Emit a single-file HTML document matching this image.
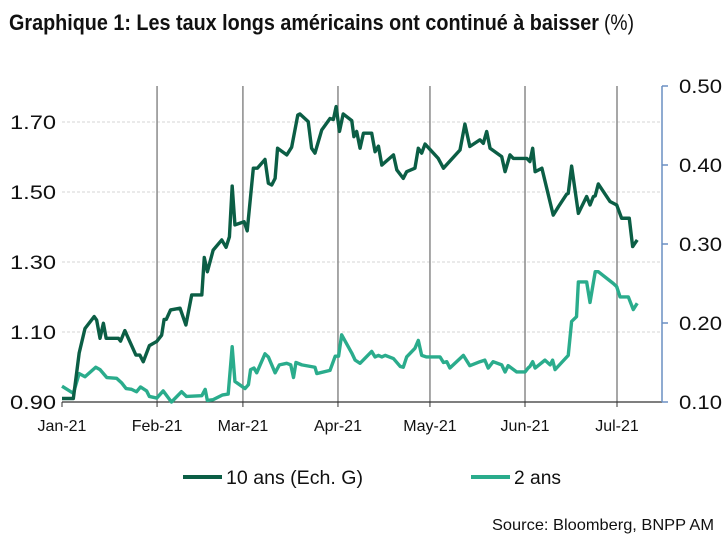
<!DOCTYPE html>
<html><head><meta charset="utf-8"><style>
html,body{margin:0;padding:0;background:#fff;}
svg{display:block;font-family:"Liberation Sans Narrow","Liberation Sans",sans-serif;}
</style></head><body>
<svg id="chart" width="725" height="536" viewBox="0 0 725 536" xmlns="http://www.w3.org/2000/svg">
<rect x="0" y="0" width="725" height="536" fill="#fff"/>
<text x="9" y="30" font-size="22" fill="#111"><tspan font-weight="bold" textLength="590" lengthAdjust="spacingAndGlyphs">Graphique 1: Les taux longs américains ont continué à baisser</tspan><tspan dx="5" textLength="30" lengthAdjust="spacingAndGlyphs">(%)</tspan></text>
<g id="grid"></g><g id="axes"></g><g id="series"></g>
<g>
<line x1="183" y1="477" x2="222" y2="477" stroke="#0b5e45" stroke-width="4"/>
<text x="226" y="484" font-size="19" textLength="137" lengthAdjust="spacingAndGlyphs" fill="#111">10 ans (Ech. G)</text>
<line x1="471" y1="477" x2="510" y2="477" stroke="#2aac8c" stroke-width="4"/>
<text x="514" y="484" font-size="19" textLength="47" lengthAdjust="spacingAndGlyphs" fill="#111">2 ans</text>
</g>
<text x="714" y="530" font-size="16" text-anchor="end" textLength="222" lengthAdjust="spacingAndGlyphs" fill="#111">Source: Bloomberg, BNPP AM</text>
</svg>
<script>
const monthLabels = ["Jan-21","Feb-21","Mar-21","Apr-21","May-21","Jun-21","Jul-21"];
const monthDays = [0,31,59,90,120,151,181];
const leftTicks = [0.90,1.10,1.30,1.50,1.70];
const rightTicks = [0.10,0.20,0.30,0.40,0.50];
const days10 = [0,3.7,5.6,7.5,10.5,11.3,12.4,13.5,14.4,18.4,19.1,20.5,24.1,25.4,26.5,28.5,30.9,32.5,33.3,34,35.4,38.5,40.4,42.3,45.6,46.4,47.4,49.3,52.1,53.5,54.6,55.5,56.4,59.4,60.4,62.4,63.7,66.2,67.3,68.4,69.5,70.3,73.3,74.9,76.9,77.6,80.3,81.4,82.5,84.7,87.4,88.5,89.4,90.5,91.7,94.5,95.2,96.1,97.2,98.3,101,102.1,103.2,104.3,108.1,109.2,111.3,112.4,115.1,116.2,117.3,118.4,122.7,124.4,129.8,131.4,133,136.3,137.4,138.5,139.6,143.4,144.5,146.1,147.2,151.6,152.6,153.5,154.3,156.5,160.2,161.9,164.6,165.1,166.2,168.4,171.1,172.2,173.3,173.9,174.9,178.7,180.9,182.5,185,186.1,187.6];
const values10 = [0.91,0.91,1.04,1.11,1.144,1.134,1.082,1.125,1.082,1.082,1.074,1.104,1.034,1.034,1.015,1.061,1.073,1.091,1.136,1.136,1.163,1.168,1.12,1.206,1.206,1.313,1.272,1.334,1.363,1.342,1.372,1.517,1.406,1.415,1.389,1.568,1.568,1.593,1.525,1.52,1.539,1.625,1.606,1.628,1.72,1.723,1.701,1.625,1.611,1.677,1.71,1.707,1.744,1.673,1.723,1.704,1.658,1.673,1.625,1.668,1.668,1.615,1.631,1.577,1.606,1.563,1.539,1.558,1.568,1.625,1.611,1.637,1.596,1.568,1.62,1.694,1.63,1.649,1.639,1.673,1.625,1.601,1.558,1.606,1.596,1.596,1.587,1.625,1.558,1.568,1.434,1.458,1.494,1.496,1.574,1.439,1.487,1.463,1.487,1.489,1.523,1.473,1.463,1.425,1.425,1.344,1.363];
const days2 = [0,3.7,5.6,7.5,11,12.4,14.6,17.8,19.5,20.9,22.7,24.3,25.6,27.6,28.5,30.9,33,35.7,39,40.6,45.6,46.7,47.4,49.3,52.4,54.2,55.5,56.4,59.7,60.8,61.5,62.6,63.5,66.2,67.3,69.5,70.9,73.3,74.6,75.5,76.3,78.2,82.5,83.1,87.4,89.1,90.2,91.2,94.5,95.6,97.2,101,102.1,103.2,104.3,105.4,108.1,110.3,111.3,112.4,115.1,116.2,117.3,118.9,123.3,124.4,125.5,126.5,130.9,133,136.3,137.9,139,140.6,143.4,144.5,145.5,148.3,151,152,152.6,153.5,154.3,157.5,159.2,160,160.8,165.1,166.2,167.8,168.4,171.1,172.2,173.9,174.9,179.8,180.9,182,184.7,186.3,187.6];
const values2 = [0.120,0.111,0.136,0.132,0.144,0.141,0.131,0.130,0.124,0.117,0.116,0.113,0.119,0.114,0.107,0.105,0.114,0.100,0.113,0.107,0.108,0.116,0.102,0.103,0.109,0.110,0.170,0.126,0.117,0.122,0.141,0.143,0.137,0.161,0.157,0.137,0.147,0.149,0.147,0.131,0.150,0.147,0.144,0.136,0.140,0.158,0.158,0.185,0.162,0.153,0.149,0.164,0.157,0.159,0.157,0.159,0.155,0.145,0.144,0.157,0.168,0.178,0.159,0.157,0.157,0.150,0.151,0.143,0.159,0.146,0.151,0.153,0.143,0.151,0.147,0.138,0.146,0.138,0.138,0.143,0.145,0.151,0.143,0.153,0.147,0.153,0.141,0.159,0.202,0.208,0.252,0.252,0.226,0.265,0.265,0.250,0.246,0.233,0.233,0.217,0.225];

const NS = "http://www.w3.org/2000/svg";
const X0 = 62, X1 = 662, YB = 402, YT = 86;
const xs = d => X0 + d * (617 - X0) / 181;
const yl = v => YB - (v - 0.9) * 350;
const yr = v => YB - (v - 0.1) * 790;
function mk(tag, attrs, parent){const e=document.createElementNS(NS,tag);for(const k in attrs)e.setAttribute(k,attrs[k]);parent.appendChild(e);return e;}
const grid = document.getElementById('grid'), axes = document.getElementById('axes'), series = document.getElementById('series');

leftTicks.forEach(v => {
  if (v > 0.9) {
    const g = mk('line',{x1:X0,x2:X1,y1:yl(v),y2:yl(v),stroke:'#d4d4d4','stroke-width':1,'stroke-dasharray':'3,2'},grid);
    
    
  }
  const t = mk('text',{x:56,y:yl(v)+7,'font-size':19,'text-anchor':'end',fill:'#111',textLength:46,lengthAdjust:'spacingAndGlyphs'},axes);
  t.textContent = v.toFixed(2);
  
  
});
monthDays.forEach((d,i) => {
  if (i > 0) {
    const g = mk('line',{x1:xs(d),x2:xs(d),y1:YT,y2:YB,stroke:'#8a8a8a','stroke-width':1.5},grid);
    
    
  }
  const tk = mk('line',{x1:xs(d),x2:xs(d),y1:YB,y2:YB+5,stroke:'#333','stroke-width':1},axes);
  
  
  const t = mk('text',{x:xs(d),y:431,'font-size':16,'text-anchor':'middle',fill:'#111'},axes);
  t.textContent = monthLabels[i];
  
  
});
const xa = mk('line',{x1:X0,x2:X1,y1:YB,y2:YB,stroke:'#333','stroke-width':1.2},axes);


const la = mk('line',{x1:X0,x2:X0,y1:YB,y2:YB+5,stroke:'#333','stroke-width':1},axes);


const ra = mk('line',{x1:X1,x2:X1,y1:YT,y2:YB,stroke:'#6a8fc2','stroke-width':1.5},axes);


rightTicks.forEach(v => {
  const tk = mk('line',{x1:X1,x2:X1+6,y1:yr(v),y2:yr(v),stroke:'#6a8fc2','stroke-width':1.5},axes);
  
  
  const t = mk('text',{x:679,y:yr(v)+7,'font-size':19,fill:'#111',textLength:43,lengthAdjust:'spacingAndGlyphs'},axes);
  t.textContent = v.toFixed(2);
  
  
});
const p2 = mk('polyline',{points:days2.map((d,i)=>xs(d)+','+yr(values2[i])).join(' '),fill:'none',stroke:'#2aac8c','stroke-width':3.4,'stroke-linejoin':'round'},series);


const p10 = mk('polyline',{points:days10.map((d,i)=>xs(d)+','+yl(values10[i])).join(' '),fill:'none',stroke:'#0b5e45','stroke-width':3.4,'stroke-linejoin':'round'},series);


</script>
</body></html>
